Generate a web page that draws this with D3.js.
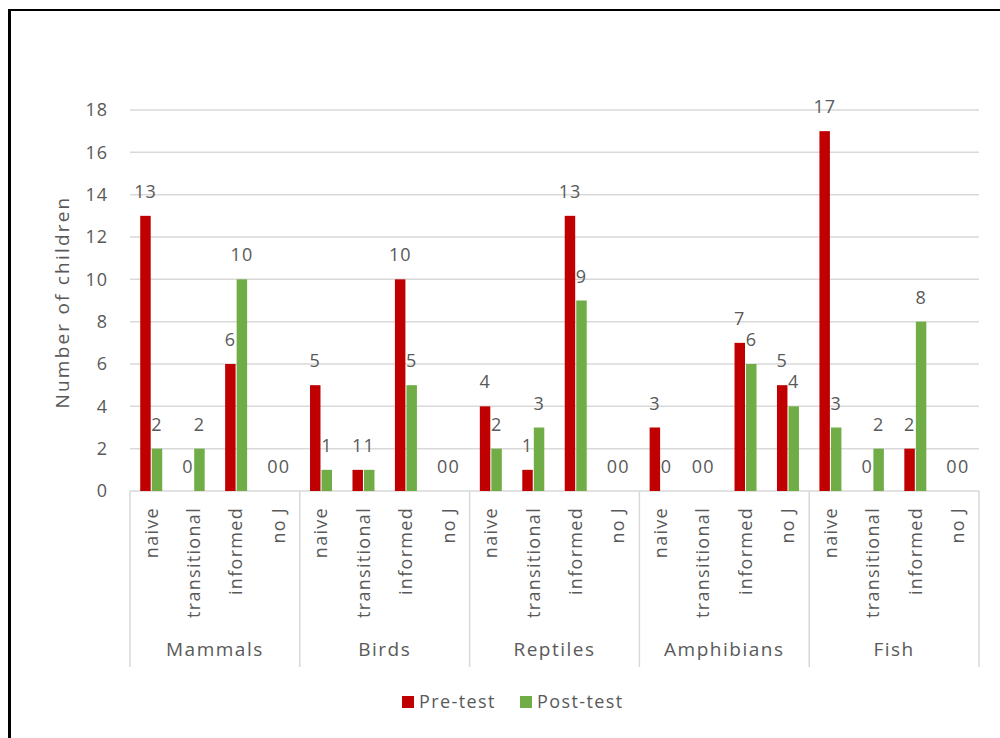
<!DOCTYPE html>
<html>
  <head>
    <title>Number of children by animal group</title>
    <script src="https://d3js.org/d3.v7.min.js"></script>
    <style>
      body { margin: 0; background: #fff; }
      text { font-family: "Open Sans", sans-serif; fill: #595959; }
    </style>
  </head>
  <body>
    <div id="chart"></div>
    <script>
      // data
      var groups = ["Mammals", "Birds", "Reptiles", "Amphibians", "Fish"];
      var subs = ["naive", "transitional", "informed", "no J"];
      var series = ["Pre-test", "Post-test"];
      var colors = ["#C00000", "#70AD47"];
      var preTest = [
        [13, 0, 6, 0],
        [5, 1, 10, 0],
        [4, 1, 13, 0],
        [3, 0, 7, 5],
        [17, 0, 2, 0]
      ];
      var postTest = [
        [2, 2, 10, 0],
        [1, 1, 5, 0],
        [2, 3, 9, 0],
        [0, 0, 6, 4],
        [3, 2, 8, 0]
      ];
      var yTicks = [0, 2, 4, 6, 8, 10, 12, 14, 16, 18];

      var rows = [];
      groups.forEach(function(g, gi) {
        subs.forEach(function(s, si) {
          rows.push({ group: g, sub: s, values: [preTest[gi][si], postTest[gi][si]] });
        });
      });

      var W = 1000, H = 738;
      var svg = d3.select("#chart").append("svg")
        .attr("width", W)
        .attr("height", H);

      // frame (only left and top edges visible)
      svg.append("line").attr("x1", 9.5).attr("x2", 9.5).attr("y1", 9).attr("y2", H)
        .attr("stroke", "#000").attr("stroke-width", 3);
      svg.append("line").attr("x1", 8).attr("x2", W).attr("y1", 10).attr("y2", 10)
        .attr("stroke", "#000").attr("stroke-width", 2);

      var plotLeft = 130, plotRight = 979, plotBase = 491, plotTop = 110;

      var y = d3.scaleLinear().domain([0, 18]).range([plotBase, plotTop]);
      var xGroup = d3.scaleBand().domain(groups).range([plotLeft, plotRight]).padding(0);
      var xSub = d3.scaleBand().domain(subs).range([0, xGroup.bandwidth()]).padding(0);
      var xSeries = d3.scaleBand().domain(series).range([-11, 11]).paddingInner(2 / 22);

      function slotCenter(d) {
        return xGroup(d.group) + xSub(d.sub) + xSub.bandwidth() / 2;
      }

      // gridlines
      svg.append("g").selectAll("line")
        .data(yTicks.filter(function(t) { return t > 0; }))
        .enter().append("line")
        .attr("x1", plotLeft).attr("x2", plotRight)
        .attr("y1", function(d) { return y(d); })
        .attr("y2", function(d) { return y(d); })
        .attr("stroke", "#D9D9D9")
        .attr("stroke-width", 1.5);

      // y tick labels
      svg.append("g").selectAll("text")
        .data(yTicks)
        .enter().append("text")
        .attr("x", 108)
        .attr("y", function(d) { return y(d); })
        .attr("dy", "0.35em")
        .attr("text-anchor", "end")
        .attr("font-size", "18px")
        .style("letter-spacing", "1px")
        .text(function(d) { return d; });

      // y axis title
      svg.append("text")
        .attr("transform", "translate(62,302) rotate(-90)")
        .attr("dy", "0.35em")
        .attr("text-anchor", "middle")
        .attr("font-size", "19px")
        .style("letter-spacing", "2.2px")
        .text("Number of children");

      // category axis line and separators
      svg.append("line")
        .attr("x1", plotLeft).attr("x2", plotRight)
        .attr("y1", plotBase).attr("y2", plotBase)
        .attr("stroke", "#D9D9D9").attr("stroke-width", 1.5);
      var seps = groups.map(function(g) { return xGroup(g); }).concat([plotRight]);
      svg.append("g").selectAll("line")
        .data(seps)
        .enter().append("line")
        .attr("x1", function(d) { return d; })
        .attr("x2", function(d) { return d; })
        .attr("y1", plotBase).attr("y2", 667)
        .attr("stroke", "#D9D9D9").attr("stroke-width", 1.5);

      // bars
      var slot = svg.append("g").selectAll("g.slot")
        .data(rows)
        .enter().append("g")
        .attr("class", "slot")
        .attr("transform", function(d) { return "translate(" + slotCenter(d) + ",0)"; });

      slot.selectAll("rect")
        .data(function(d) { return d.values; })
        .enter().append("rect")
        .attr("x", function(v, i) { return xSeries(series[i]); })
        .attr("width", xSeries.bandwidth())
        .attr("y", function(v) { return y(v); })
        .attr("height", function(v) { return plotBase - y(v); })
        .attr("fill", function(v, i) { return colors[i]; });

      // data labels
      slot.selectAll("text")
        .data(function(d) { return d.values; })
        .enter().append("text")
        .attr("x", function(v, i) { return xSeries(series[i]) + xSeries.bandwidth() / 2; })
        .attr("y", function(v) { return y(v) - 18; })
        .attr("text-anchor", "middle")
        .attr("font-size", "18px")
        .style("letter-spacing", "1px")
        .text(function(v) { return v; });

      // sub category labels
      svg.append("g").selectAll("text")
        .data(rows)
        .enter().append("text")
        .attr("transform", function(d) { return "translate(" + slotCenter(d) + ",507) rotate(-90)"; })
        .attr("dy", "0.35em")
        .attr("text-anchor", "end")
        .attr("font-size", "18px")
        .style("letter-spacing", "1.3px")
        .text(function(d) { return d.sub; });

      // group labels
      svg.append("g").selectAll("text")
        .data(groups)
        .enter().append("text")
        .attr("x", function(d) { return xGroup(d) + xGroup.bandwidth() / 2; })
        .attr("y", 656)
        .attr("text-anchor", "middle")
        .attr("font-size", "19px")
        .style("letter-spacing", "1.5px")
        .text(function(d) { return d; });

      // legend
      var legendX = [402, 520];
      var legend = svg.append("g").selectAll("g")
        .data(series)
        .enter().append("g")
        .attr("transform", function(d, i) { return "translate(" + legendX[i] + ",696)"; });
      legend.append("rect")
        .attr("width", 12).attr("height", 12)
        .attr("fill", function(d, i) { return colors[i]; });
      legend.append("text")
        .attr("x", 17).attr("y", 6)
        .attr("dy", "0.35em")
        .attr("font-size", "18px")
        .style("letter-spacing", "1.4px")
        .text(function(d) { return d; });
    </script>
  </body>
</html>
